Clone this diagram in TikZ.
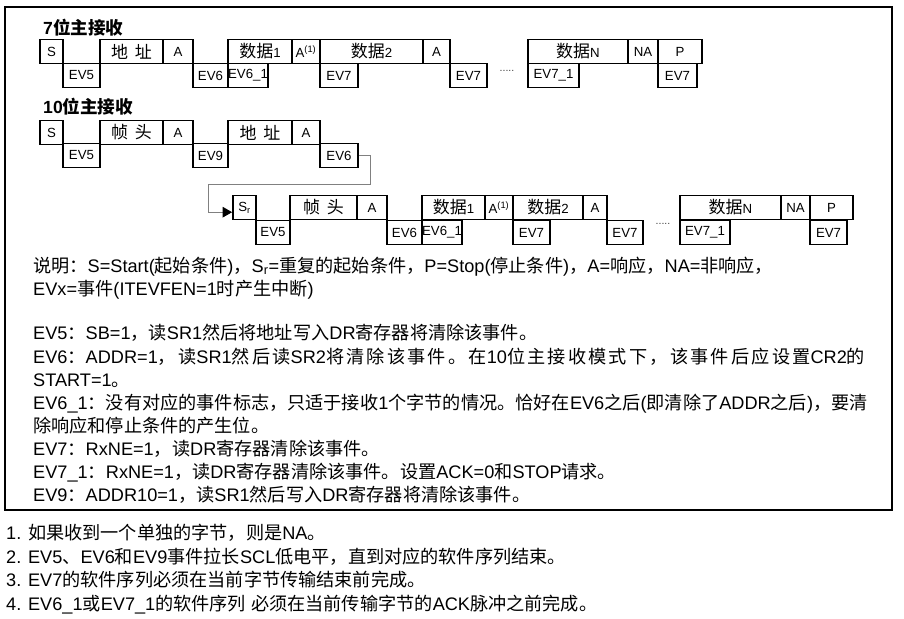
\documentclass[tikz,border=0pt]{standalone}
\usepackage{fontspec}
\setmainfont{Liberation Sans}
\newfontfamily\cjkfont{Noto Sans CJK SC}
\newfontfamily\latfont{Liberation Sans}
% switch to the CJK family for Chinese characters
\XeTeXinterchartokenstate=1
\newXeTeXintercharclass\cjkclass
\newcount\cjkcode
\newskip\cjkgap \cjkgap=0pt
\def\setcjkrange#1#2{\cjkcode=#1 \loop\XeTeXcharclass\cjkcode=\cjkclass\ifnum\cjkcode<#2 \advance\cjkcode by 1 \repeat}
\setcjkrange{"3000}{"303F}
\setcjkrange{"4E00}{"9FFF}
\setcjkrange{"FF00}{"FFEF}
\XeTeXinterchartoks 0 \cjkclass = {\cjkfont}
\XeTeXinterchartoks 4095 \cjkclass = {\cjkfont}
\XeTeXinterchartoks \cjkclass 0 = {\latfont}
\XeTeXinterchartoks \cjkclass 4095 = {\latfont}
\XeTeXinterchartoks \cjkclass \cjkclass = {\hskip\cjkgap}
\usetikzlibrary{arrows.meta}
\newcommand\bigcjk{\fontsize{14.5pt}{16pt}\selectfont}
\tikzset{
  seg/.style={draw, line width=1.6pt, inner sep=0pt, minimum height=0.72cm,
    font=\fontsize{11.3pt}{13pt}\selectfont},
  txt/.style={anchor=base west, inner sep=0pt, font=\fontsize{15.5pt}{18pt}\selectfont},
  ttl/.style={anchor=west, inner sep=0pt, font=\fontsize{15pt}{18pt}\selectfont\bfseries},
  conn/.style={draw=gray, line width=0.7pt, -{Triangle[color=black, length=8pt, width=9pt]}},
  dots/.style={inner sep=0pt, text=darkgray, font=\small}
}
\begin{document}
\begin{tikzpicture}[x=0.03cm, y=-0.03cm]
    \useasboundingbox (0,0) rectangle (904,618);
    \draw [line width=1.2pt] (5,7) rectangle (892,510);

    % 7-bit master receiver
    \node [ttl] (ttl7) at (43,28) {7位主接收};
    \foreach \n/\a/\b/\t in {s/40/63/S, addr/100/163/{\bigcjk 地\hspace{0.4em}址}, ack/163/193/A,
        d1/228/292/{\bigcjk 数据}1, acka/292/320/A\textsuperscript{(1)}, d2/320/423/{\bigcjk 数据}2,
        ackb/423/450/A, dn/528/628/{\bigcjk 数据}N, na/628/658/NA, p/658/702/P}
        \node [seg, minimum width={(\b-\a)*0.03cm}] (a-\n) at ({(\a+\b)/2},51.5) {\t};
    \foreach \n/\a/\b/\t in {ev5/63/100/EV5, ev6/193/228/EV6, ev61/228/268/EV6\_1,
        ev7a/320/358/EV7, ev7b/450/487/EV7, ev71/528/579/EV7\_1, ev7c/658/697/EV7}
        \node [seg, minimum width={(\b-\a)*0.03cm}] (a-\n) at ({(\a+\b)/2},75.5) {\t};
    \node [dots] (a-dots) at (507,71) {.....};

    % 10-bit master receiver
    \node [ttl] (ttl10) at (43,107) {10位主接收};
    \foreach \n/\a/\b/\t in {s/40/63/S, hdr/100/163/{\bigcjk 帧\hspace{0.4em}头}, ack/163/193/A,
        addr/228/292/{\bigcjk 地\hspace{0.4em}址}, acka/292/320/A}
        \node [seg, minimum width={(\b-\a)*0.03cm}] (b-\n) at ({(\a+\b)/2},132.5) {\t};
    \foreach \n/\a/\b/\t in {ev5/63/100/EV5, ev9/193/228/EV9, ev6/320/358/EV6}
        \node [seg, minimum width={(\b-\a)*0.03cm}] (b-\n) at ({(\a+\b)/2},155.5) {\t};

    \foreach \n/\a/\b/\t in {sr/233/256/S\textsubscript{r}, hdr/290/357/{\bigcjk 帧\hspace{0.4em}头}, ack/357/387/A,
        d1/422/485/{\bigcjk 数据}1, acka/485/513/A\textsuperscript{(1)}, d2/513/583/{\bigcjk 数据}2,
        ackb/583/607/A, dn/680/781/{\bigcjk 数据}N, na/781/810/NA, p/810/853/P}
        \node [seg, minimum width={(\b-\a)*0.03cm}] (c-\n) at ({(\a+\b)/2},207.5) {\t};
    \foreach \n/\a/\b/\t in {ev5/256/290/EV5, ev6/387/422/EV6, ev61/422/462/EV6\_1,
        ev7a/513/550/EV7, ev7b/607/643/EV7, ev71/680/730/EV7\_1, ev7c/810/847/EV7}
        \node [seg, minimum width={(\b-\a)*0.03cm}] (c-\n) at ({(\a+\b)/2},232.5) {\t};
    \node [dots] (c-dots) at (663,224) {.....};

    \coordinate (k1) at (370,184);
    \coordinate (k2) at (208,184);
    \draw [conn] (b-ev6.east) -| (k1) -- (k2) |- ([yshift=-4pt]c-sr.west);

    % legend
    \node [txt] (t1) at (33,272) {说明：S=Start(起始条件)，S\textsubscript{r}=重复的起始条件，P=Stop(停止条件)，A=响应，NA=非响应，};
    \node [txt] (t2) at (33,295) {EVx=事件(ITEVFEN=1时产生中断)};
    \node [txt] (t3) at (33,339) {EV5：SB=1，读SR1然后将地址写入DR寄存器将清除该事件。};
    \node [txt] (t4) at (33,363) {\cjkgap=1.9pt EV6：ADDR=1，读SR1然后读SR2将清除该事件。在10位主接收模式下，该事件后应设置CR2的};
    \node [txt] (t5) at (33,386) {START=1。};
    \node [txt] (t6) at (33,409) {EV6\_1：没有对应的事件标志，只适于接收1个字节的情况。恰好在EV6之后(即清除了ADDR之后)，要清};
    \node [txt] (t7) at (33,432) {除响应和停止条件的产生位。};
    \node [txt] (t8) at (33,455) {EV7：RxNE=1，读DR寄存器清除该事件。};
    \node [txt] (t9) at (33,478) {EV7\_1：RxNE=1，读DR寄存器清除该事件。设置ACK=0和STOP请求。};
    \node [txt] (t10) at (33,501) {EV9：ADDR10=1，读SR1然后写入DR寄存器将清除该事件。};

    % notes
    \node [txt] (n1) at (6,539) {1. 如果收到一个单独的字节，则是NA。};
    \node [txt] (n2) at (6,563) {2. EV5、EV6和EV9事件拉长SCL低电平，直到对应的软件序列结束。};
    \node [txt] (n3) at (6,586) {3. EV7的软件序列必须在当前字节传输结束前完成。};
    \node [txt] (n4) at (6,610) {4. EV6\_1或EV7\_1的软件序列 必须在当前传输字节的ACK脉冲之前完成。};
\end{tikzpicture}
\end{document}
